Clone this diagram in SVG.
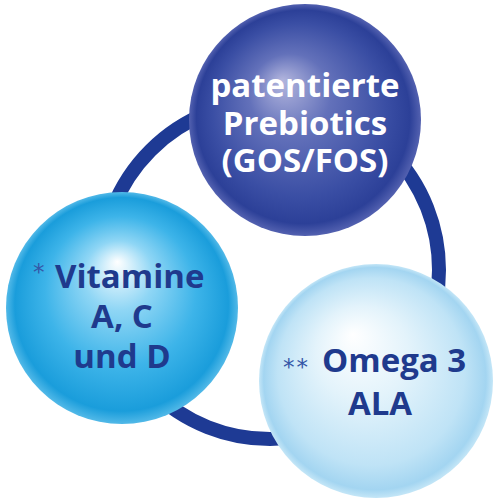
<svg xmlns="http://www.w3.org/2000/svg" width="498" height="498" viewBox="0 0 498 498">
<defs>
<radialGradient id="gTop" cx="0.5" cy="0.5" r="0.5" fx="0.4" fy="0.33">
<stop offset="0" stop-color="#b3b6de"/>
<stop offset="0.35" stop-color="#6371ba"/>
<stop offset="0.75" stop-color="#3a4ea4"/>
<stop offset="0.92" stop-color="#2c4098"/>
<stop offset="1" stop-color="#5361b0"/>
</radialGradient>
<radialGradient id="gLeft" cx="0.5" cy="0.5" r="0.5" fx="0.48" fy="0.3">
<stop offset="0" stop-color="#ffffff"/>
<stop offset="0.3" stop-color="#8fd6f5"/>
<stop offset="0.65" stop-color="#3db4e9"/>
<stop offset="0.92" stop-color="#1a9ddb"/>
<stop offset="1" stop-color="#52b9e8"/>
</radialGradient>
<radialGradient id="gRight" cx="0.5" cy="0.5" r="0.5" fx="0.4" fy="0.3">
<stop offset="0" stop-color="#ffffff"/>
<stop offset="0.4" stop-color="#e3f3fb"/>
<stop offset="0.8" stop-color="#bfe3f6"/>
<stop offset="0.95" stop-color="#a3d5f1"/>
<stop offset="1" stop-color="#c4e6f7"/>
</radialGradient>
</defs>
<style>
.lbl{font-family:"Open Sans","Liberation Sans",sans-serif;font-weight:bold;font-size:33px;text-anchor:middle}
.w{fill:#ffffff}
.b{fill:#1f3a8d}
.ast{font-family:"DejaVu Sans","Liberation Sans",sans-serif;font-size:23px;fill:#3557a8;letter-spacing:2px}
</style>
<g id="connectors">
<circle cx="270" cy="270" r="169" fill="none" stroke="#1e3a94" stroke-width="14"/>
</g>
<g id="prebiotics">
<circle cx="305" cy="120" r="116" fill="url(#gTop)"/>
<text class="lbl w" x="305" y="97">patentierte</text>
<text class="lbl w" x="305" y="135">Prebiotics</text>
<text class="lbl w" x="305" y="172">(GOS/FOS)</text>
</g>
<g id="vitamine">
<circle cx="122" cy="308" r="116" fill="url(#gLeft)"/>
<text class="ast" x="33" y="280">*</text>
<text class="lbl b" x="55" y="288" style="text-anchor:start">Vitamine</text>
<text class="lbl b" x="122" y="328">A, C</text>
<text class="lbl b" x="122" y="368">und D</text>
</g>
<g id="omega">
<circle cx="376" cy="381" r="117" fill="url(#gRight)"/>
<text class="ast" x="283" y="375">**</text>
<text class="lbl b" x="322" y="372" style="text-anchor:start">Omega 3</text>
<text class="lbl b" x="380" y="415">ALA</text>
</g>
</svg>
